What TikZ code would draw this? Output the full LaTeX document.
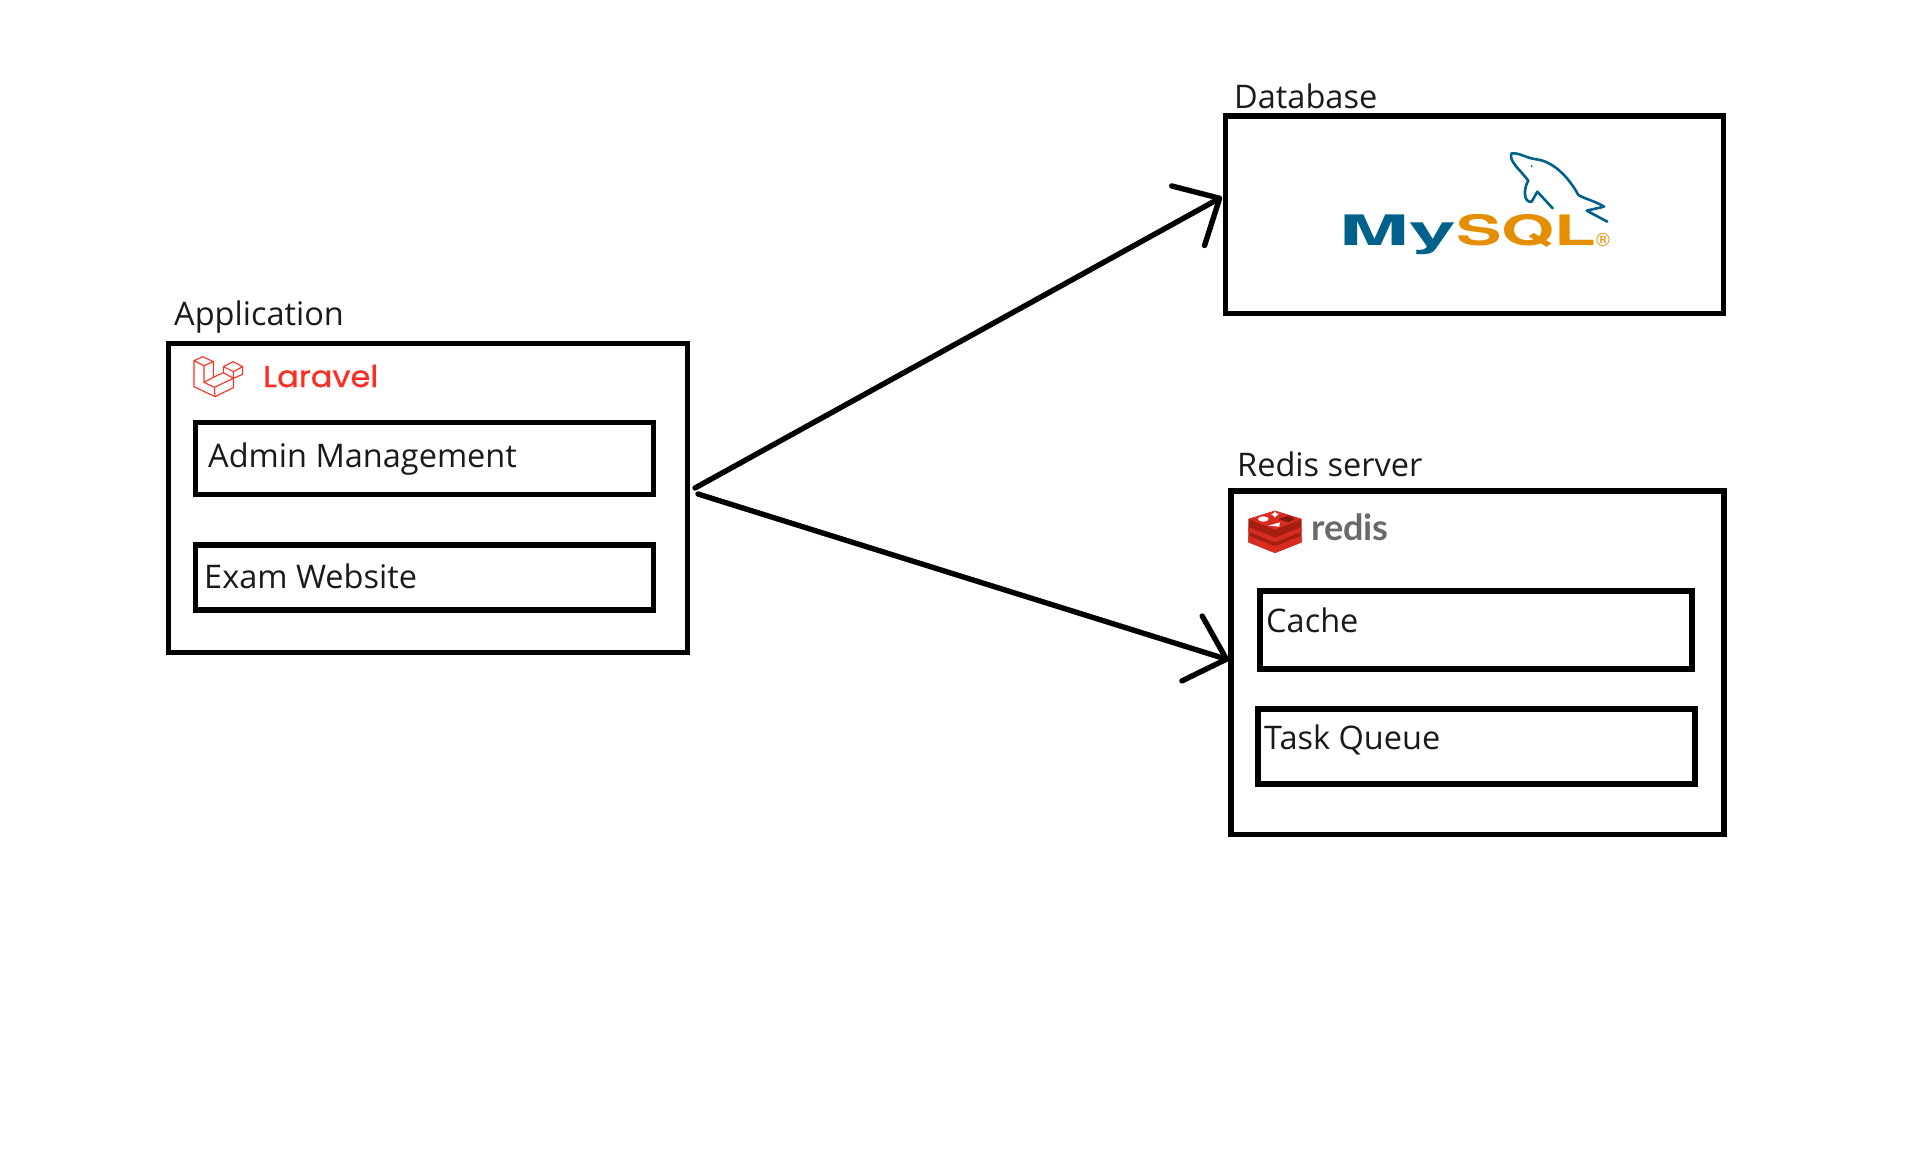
\documentclass[tikz,border=0pt]{standalone}
\usepackage{fontspec}
\usepackage{tikz}
\usetikzlibrary{arrows.meta}
\setmainfont{Open Sans}
\newfontfamily\logoheros{TeX Gyre Heros}
\newfontfamily\logopop[FakeBold=0.8]{Poppins}
\newfontfamily\logolato{Lato}
\newfontfamily\logodeja{DejaVu Sans}
\definecolor{laravelred}{HTML}{FF2D20}
\definecolor{mysqlblue}{HTML}{00618A}
\definecolor{mysqlorange}{HTML}{E48E00}
\definecolor{redisred}{HTML}{D82C20}
\definecolor{redisdark}{HTML}{A41E11}
\definecolor{redisgray}{HTML}{6A6A6C}
\definecolor{mink}{HTML}{1A1A1A}

\begin{document}
\begin{tikzpicture}[
        x = 1pt, y = -1pt,
        mbox/.style = {draw, black, line width = 5.4pt, anchor = north west, inner sep = 0pt, outer sep = 0pt},
        mtext/.style = {mink, anchor = base west, inner sep = 0pt, font = \fontsize{32.5}{38}\selectfont},
        marrow/.style = {arrows = {-Straight Barb[length=36pt, width=68pt, round]}, line width = 5.4pt, line cap = round},
        mlaravel/.style = {laravelred, line width = 1.1pt, line join = round},
        mdolphin/.style = {mysqlblue, line width = 2.6pt, line cap = round, line join = round}
        ]
        \useasboundingbox (0,0) rectangle (1915,1151);

        % application
        \node[mbox, minimum width = 519pt, minimum height = 309pt] (app) at (168.5,343.5) {};
        \node[mbox, minimum width = 458pt, minimum height = 72pt] (admin) at (195.5,422.5) {};
        \node[mbox, minimum width = 458pt, minimum height = 65pt] (exam) at (195.5,545) {};
        \node[mtext] (applabel) at (174,325.5) {Application};
        \node[mtext] (admintext) at (208,467) {Admin Management};
        \node[mtext] (examtext) at (204,588) {Exam Website};

        % laravel logo
        \begin{scope}[shift = {(180,345)}, scale = 1/3]
            \draw[mlaravel] (42,47) -- (68,35) -- (100,50) -- (72,62) -- cycle;
            \draw[mlaravel] (42,47) -- (42,125) -- (105,155) -- (160,128) -- (160,100);
            \draw[mlaravel] (72,62) -- (72,112) -- (103,127) -- (105,155);
            \draw[mlaravel] (100,50) -- (100,97) -- (72,112);
            \draw[mlaravel] (103,127) -- (160,100) -- (130,83) -- (100,97);
            \draw[mlaravel] (130,65) -- (160,50) -- (188,65) -- (160,80) -- cycle;
            \draw[mlaravel] (130,65) -- (130,83);
            \draw[mlaravel] (160,80) -- (160,100) -- (188,88) -- (188,65);
        \end{scope}
        \node[laravelred, anchor = base west, inner sep = 0pt, xscale = 1.07, font = \logopop\fontsize{30}{32}\selectfont] (laraveltext) at (263,387) {Laravel};

        % database
        \node[mbox, minimum width = 498pt, minimum height = 197.5pt] (db) at (1225.5,116) {};
        \node[mtext] (dblabel) at (1234,108) {Database};
        \begin{scope}[shift = {(1330,140)}, scale = 1/3]
            \draw[mdolphin] (585,110) .. controls (565,85) and (535,60) .. (545,40)
                .. controls (570,38) and (590,55) .. (620,58)
                .. controls (670,65) and (715,110) .. (745,165)
                .. controls (760,175) and (800,185) .. (822,200)
                -- (770,212) -- (832,245);
            \draw[mdolphin] (585,110) -- (595,122)
                .. controls (580,145) and (580,190) .. (605,185)
                -- (622,155) -- (668,205);
            \fill[mysqlblue] (605,78) circle (3);
        \end{scope}
        \node[mysqlblue, anchor = base west, inner sep = 0pt, xscale = 2, font = \logoheros\bfseries\fontsize{42}{44}\selectfont] (mysqlmy) at (1339,245) {My};
        \node[mysqlorange, anchor = base west, inner sep = 0pt, xscale = 1.62, font = \logoheros\bfseries\fontsize{42}{44}\selectfont] (mysqlsql) at (1456,245) {SQL};
        \node[mysqlorange, anchor = base west, inner sep = 0pt, font = \logodeja\fontsize{18}{20}\selectfont] (mysqlreg) at (1594,246) {®};

        % redis server
        \node[mbox, minimum width = 493pt, minimum height = 343.5pt] (redis) at (1231,491) {};
        \node[mbox, minimum width = 432pt, minimum height = 78pt] (cache) at (1260,591) {};
        \node[mbox, minimum width = 437pt, minimum height = 75pt] (queue) at (1258,709) {};
        \node[mtext] (redislabel) at (1237,476) {Redis server};
        \node[mtext] (cachetext) at (1266,632) {Cache};
        \node[mtext] (queuetext) at (1264,749) {Task Queue};

        % redis logo
        \begin{scope}[shift = {(1240,499)}, scale = 1/3]
            \fill[redisdark] (25,60) -- (105,35) -- (185,60) -- (185,130) -- (105,162) -- (25,130) -- cycle;
            \fill[redisred] (25,84) -- (105,116) -- (185,84) -- (185,98) -- (105,130) -- (25,98) -- cycle;
            \fill[redisred] (25,110) -- (105,142) -- (185,110) -- (185,130) -- (105,162) -- (25,130) -- cycle;
            \fill[redisred] (25,60) -- (105,35) -- (185,60) -- (105,92) -- cycle;
            \fill[white] (70,60) ellipse (16 and 8);
            \fill[white] (105,37) -- (110,44) -- (118,44) -- (110,50) -- (105,56) -- (100,50) -- (93,45) -- (100,44) -- cycle;
            \fill[white] (85,80) -- (120,70) -- (118,83) -- cycle;
            \fill[redisdark!80!black] (115,60) -- (145,50) -- (165,60) -- (145,70) -- cycle;
        \end{scope}
        \node[redisgray, anchor = base west, inner sep = 0pt, font = \logolato\bfseries\fontsize{36}{38}\selectfont] (redistext) at (1311,540) {redis};

        % connections
        \coordinate (appout) at (695,488);
        \coordinate (appoutb) at (698,494);
        \coordinate (dbin) at (1222,197);
        \coordinate (redisin) at (1229,660);
        \draw[marrow] (appout) -- (dbin);
        \draw[marrow] (appoutb) -- (redisin);
\end{tikzpicture}
\end{document}
